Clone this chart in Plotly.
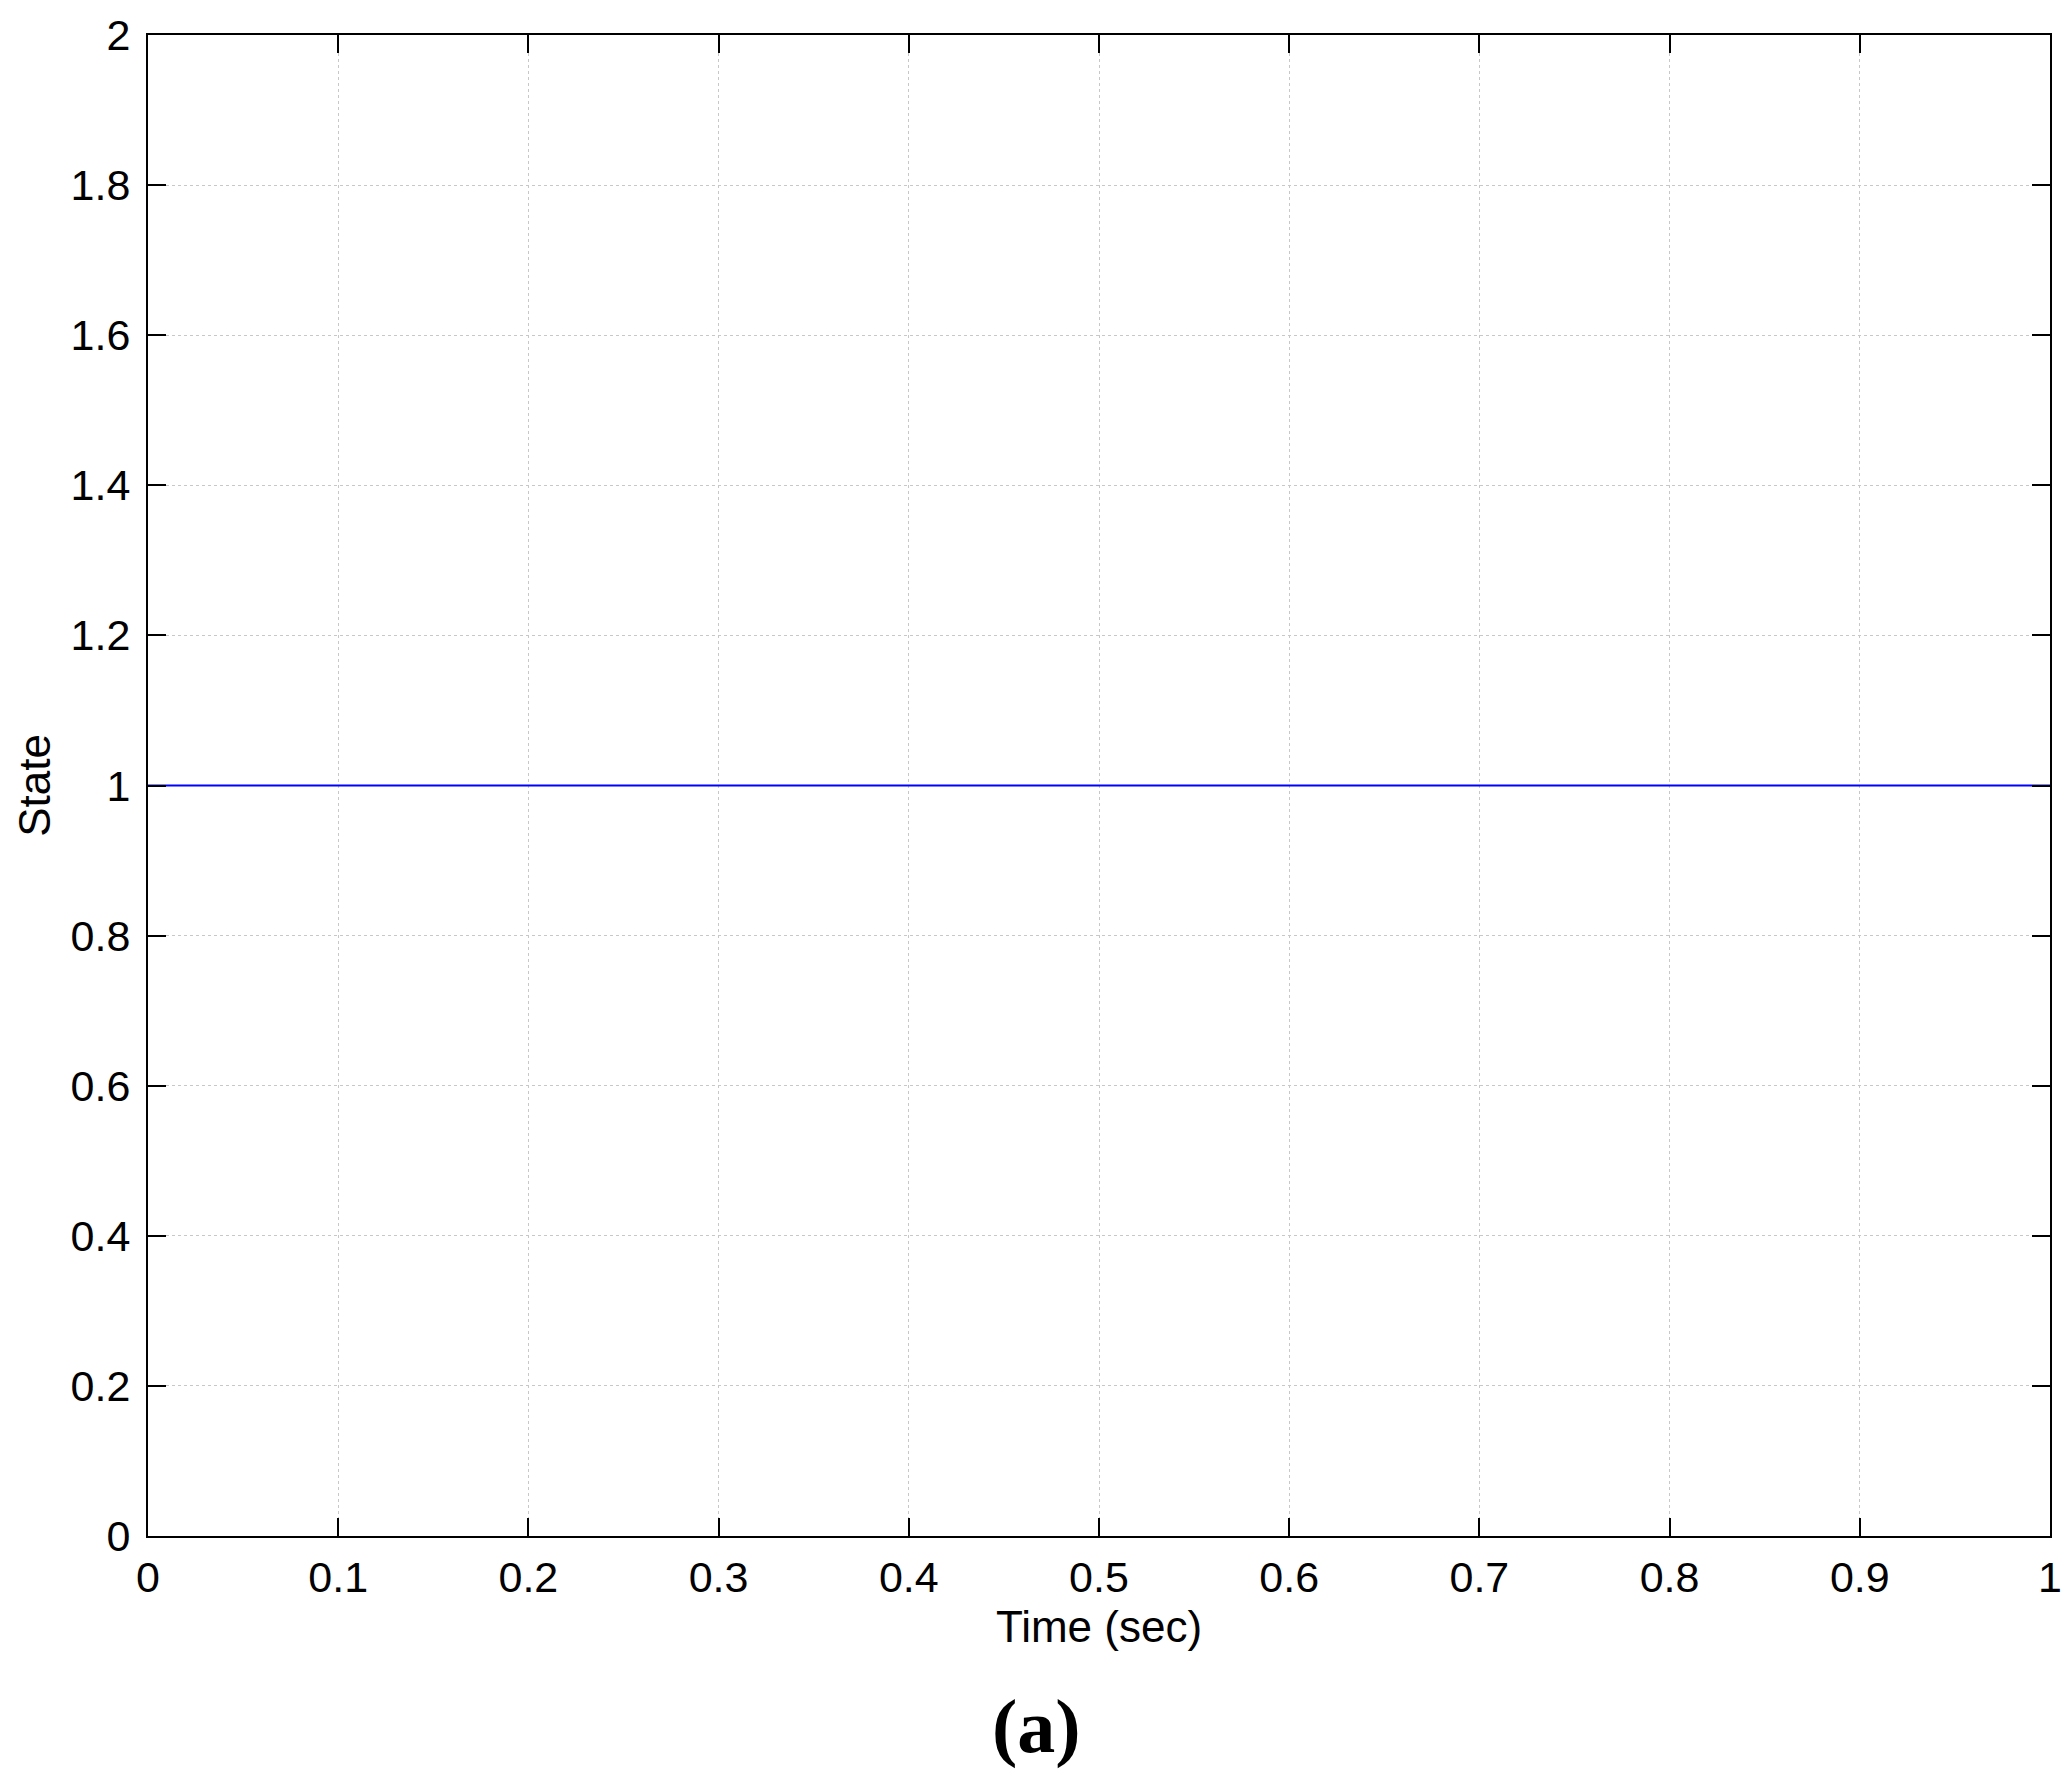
import plotly.graph_objects as go

# one constant state over the whole run
time_sec = [0.0, 1.0]
state = [1.0, 1.0]

x_ticks = [0, 0.1, 0.2, 0.3, 0.4, 0.5, 0.6, 0.7, 0.8, 0.9, 1]
x_labels = ["0", "0.1", "0.2", "0.3", "0.4", "0.5", "0.6", "0.7", "0.8", "0.9", "1"]
y_ticks = [0, 0.2, 0.4, 0.6, 0.8, 1, 1.2, 1.4, 1.6, 1.8, 2]
y_labels = ["0", "0.2", "0.4", "0.6", "0.8", "1", "1.2", "1.4", "1.6", "1.8", "2"]

fig = go.Figure()
fig.add_trace(go.Scatter(
    x=time_sec,
    y=state,
    mode="lines",
    line=dict(color="#0000ff", width=2),
    showlegend=False
))

axis_style = dict(
    showline=True,
    linecolor="black",
    linewidth=2,
    mirror="ticks",
    ticks="inside",
    ticklen=18,
    tickwidth=2,
    tickcolor="black",
    showgrid=True,
    gridcolor="#c8c8c8",
    gridwidth=1,
    griddash="dot",
    zeroline=False,
    automargin=False,  # keep the plot box where the margins put it
    tickfont=dict(family="Liberation Sans, Arial", size=43, color="black"),
)

fig.update_xaxes(
    range=[0, 1],
    tickvals=x_ticks,
    ticktext=x_labels,
    ticklabelstandoff=2,
    title=dict(text="Time (sec)", font=dict(family="Liberation Sans, Arial", size=44, color="black"), standoff=12),
    **axis_style
)
fig.update_yaxes(
    range=[0, 2],
    tickvals=y_ticks,
    ticktext=y_labels,
    ticklabelstandoff=7,
    title=dict(text="State", font=dict(family="Liberation Sans, Arial", size=44, color="black"), standoff=6),
    **axis_style
)

fig.add_annotation(
    text="<b>(a)</b>",
    xref="paper", yref="paper",
    x=0.4674, y=-0.1267,
    xanchor="center", yanchor="middle",
    showarrow=False,
    font=dict(family="Liberation Serif, Times New Roman", size=76, color="black")
)

# page has an 8px body margin, so keep the figure inside the window
fig.update_layout(
    width=2055,
    height=1764,
    margin=dict(l=140, r=13, t=27, b=236),
    plot_bgcolor="white",
    paper_bgcolor="white",
)

fig.write_html("out.html")
